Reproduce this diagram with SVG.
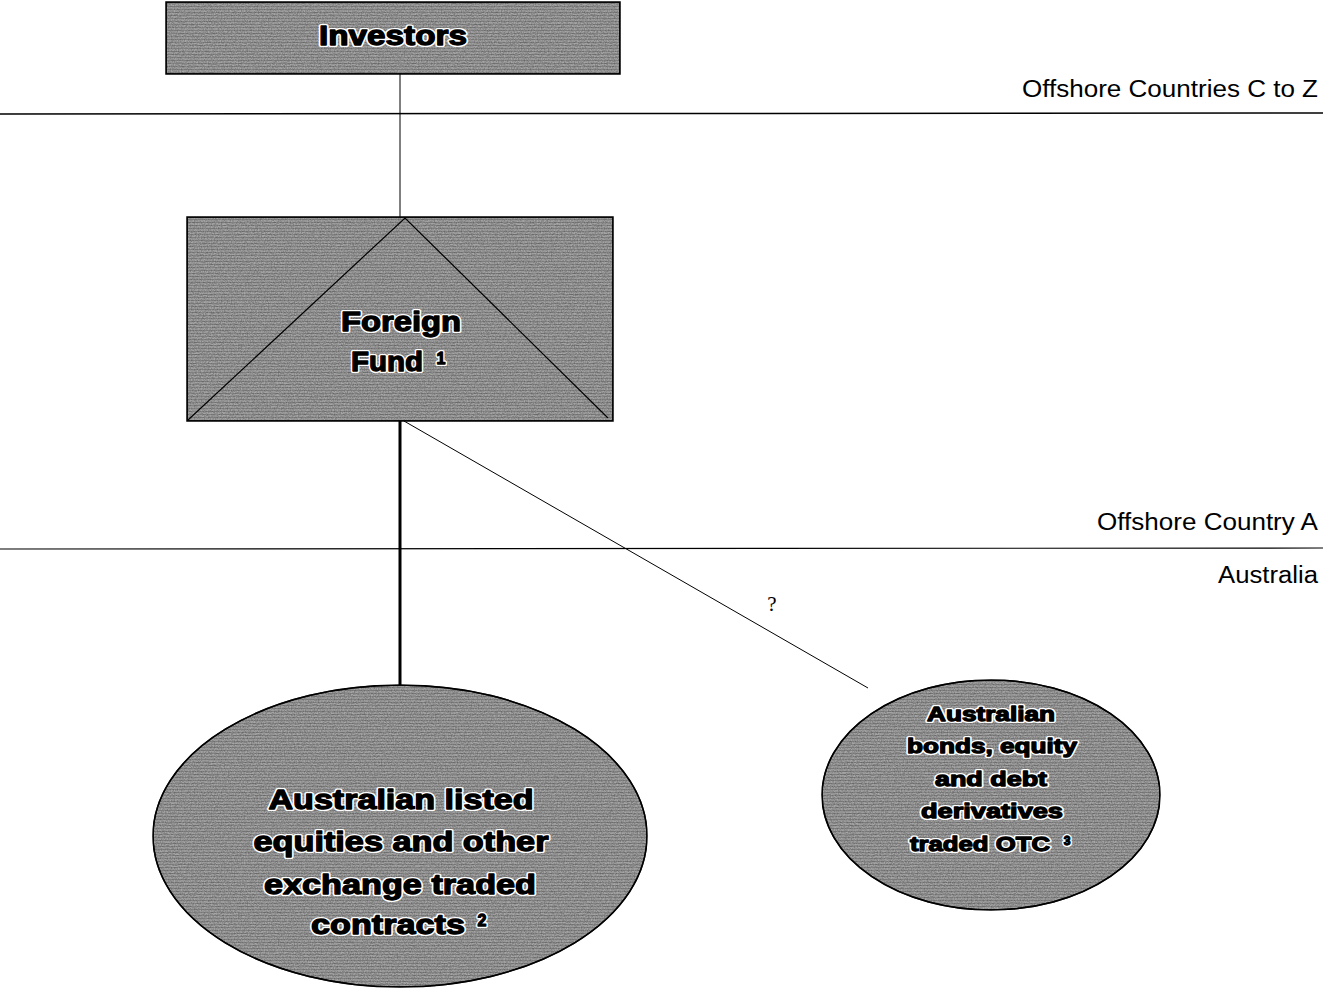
<svg xmlns="http://www.w3.org/2000/svg" width="1323" height="988" viewBox="0 0 1323 988">
<defs>
<filter id="tex" x="0" y="0" width="100%" height="100%">
<feTurbulence type="fractalNoise" baseFrequency="0.7 0.9" numOctaves="3" seed="3" result="n"/>
<feColorMatrix in="n" type="matrix" values="0 0 0 0 0.55  0 0 0 0 0.55  0 0 0 0 0.55  2.2 0 0 0 -0.6" result="g"/>
<feComposite in="g" in2="SourceGraphic" operator="in" result="gi"/>
<feBlend in="gi" in2="SourceGraphic" mode="multiply"/>
</filter>
<pattern id="stripes" width="4" height="3" patternUnits="userSpaceOnUse">
<rect width="4" height="3" fill="#a6a6a6"/>
<rect width="4" height="1" fill="#8a8a8a"/>
</pattern>
<style>
.shape{fill:url(#stripes);stroke:#000;stroke-width:1.5}
.halo{font-family:"Liberation Sans",Arial,sans-serif;font-weight:bold;fill:#fff;stroke:#fff;stroke-width:4;stroke-linejoin:round;text-anchor:middle}
.ink{font-family:"Liberation Sans",Arial,sans-serif;font-weight:bold;fill:#000;stroke:#000;stroke-width:1.3;stroke-linejoin:round;text-anchor:middle}
.region{font-family:"Liberation Sans",Arial,sans-serif;font-size:23px;fill:#000;text-anchor:end}
.line{stroke:#000;fill:none}
</style>
</defs>
<rect width="1323" height="988" fill="#fff"/>
<g id="region-lines">
<line class="line" x1="0" y1="114" x2="1323" y2="113" stroke-width="1.5"/>
<line class="line" x1="0" y1="549" x2="1323" y2="548" stroke-width="1.2"/>
<text class="region" x="1318" y="97" textLength="296" lengthAdjust="spacingAndGlyphs">Offshore Countries C to Z</text>
<text class="region" x="1318" y="530" textLength="221" lengthAdjust="spacingAndGlyphs">Offshore Country A</text>
<text class="region" x="1318" y="583" textLength="100" lengthAdjust="spacingAndGlyphs">Australia</text>
</g>
<g id="connectors">
<line class="line" x1="400" y1="74" x2="400" y2="217" stroke-width="1"/>
<line class="line" x1="400" y1="421" x2="400" y2="686" stroke-width="3"/>
<line class="line" x1="404" y1="421" x2="868" y2="688" stroke-width="1"/>
<text x="772" y="611" font-family="Liberation Serif,serif" font-size="21" text-anchor="middle">?</text>
</g>
<g id="investors">
<rect class="shape" x="166" y="2" width="454" height="72" filter="url(#tex)"/>
<rect x="166" y="2" width="454" height="72" fill="none" stroke="#000" stroke-width="1.5"/>
<g font-size="27">
<text class="halo" x="393" y="45" textLength="148" lengthAdjust="spacingAndGlyphs">Investors</text>
<text class="ink" x="393" y="45" textLength="148" lengthAdjust="spacingAndGlyphs">Investors</text>
</g>
</g>
<g id="foreign-fund">
<rect class="shape" x="187" y="217" width="426" height="204" filter="url(#tex)"/>
<rect x="187" y="217" width="426" height="204" fill="none" stroke="#000" stroke-width="1.5"/>
<polyline class="line" points="188,420 405,218 608,418" stroke-width="1.2"/>
<g font-size="28">
<text class="halo" x="401" y="331" textLength="120" lengthAdjust="spacingAndGlyphs">Foreign</text>
<text class="ink" x="401" y="331" textLength="120" lengthAdjust="spacingAndGlyphs">Foreign</text>
<text class="halo" x="387" y="371" textLength="72" lengthAdjust="spacingAndGlyphs">Fund</text>
<text class="ink" x="387" y="371" textLength="72" lengthAdjust="spacingAndGlyphs">Fund</text>
<text class="halo" x="441" y="364" font-size="16">1</text>
<text class="ink" x="441" y="364" font-size="16" stroke-width="0.6">1</text>
</g>
</g>
<g id="listed">
<ellipse class="shape" cx="400" cy="836" rx="247" ry="151" filter="url(#tex)"/>
<ellipse cx="400" cy="836" rx="247" ry="151" fill="none" stroke="#000" stroke-width="1.5"/>
<g font-size="28">
<text class="halo" x="401" y="809" textLength="265" lengthAdjust="spacingAndGlyphs">Australian listed</text>
<text class="ink" x="401" y="809" textLength="265" lengthAdjust="spacingAndGlyphs">Australian listed</text>
<text class="halo" x="401" y="851" textLength="295" lengthAdjust="spacingAndGlyphs">equities and other</text>
<text class="ink" x="401" y="851" textLength="295" lengthAdjust="spacingAndGlyphs">equities and other</text>
<text class="halo" x="400" y="894" textLength="272" lengthAdjust="spacingAndGlyphs">exchange traded</text>
<text class="ink" x="400" y="894" textLength="272" lengthAdjust="spacingAndGlyphs">exchange traded</text>
<text class="halo" x="388" y="934" textLength="154" lengthAdjust="spacingAndGlyphs">contracts</text>
<text class="ink" x="388" y="934" textLength="154" lengthAdjust="spacingAndGlyphs">contracts</text>
<text class="halo" x="482" y="926" font-size="16">2</text>
<text class="ink" x="482" y="926" font-size="16" stroke-width="0.6">2</text>
</g>
</g>
<g id="otc">
<ellipse class="shape" cx="991" cy="795" rx="169" ry="115" filter="url(#tex)"/>
<ellipse cx="991" cy="795" rx="169" ry="115" fill="none" stroke="#000" stroke-width="1.5"/>
<g font-size="21">
<text class="halo" x="991" y="721" textLength="128" lengthAdjust="spacingAndGlyphs">Australian</text>
<text class="ink" x="991" y="721" textLength="128" lengthAdjust="spacingAndGlyphs" stroke-width="1">Australian</text>
<text class="halo" x="992" y="753" textLength="170" lengthAdjust="spacingAndGlyphs">bonds, equity</text>
<text class="ink" x="992" y="753" textLength="170" lengthAdjust="spacingAndGlyphs" stroke-width="1">bonds, equity</text>
<text class="halo" x="991" y="786" textLength="112" lengthAdjust="spacingAndGlyphs">and debt</text>
<text class="ink" x="991" y="786" textLength="112" lengthAdjust="spacingAndGlyphs" stroke-width="1">and debt</text>
<text class="halo" x="992" y="818" textLength="142" lengthAdjust="spacingAndGlyphs">derivatives</text>
<text class="ink" x="992" y="818" textLength="142" lengthAdjust="spacingAndGlyphs" stroke-width="1">derivatives</text>
<text class="halo" x="980" y="851" textLength="140" lengthAdjust="spacingAndGlyphs">traded OTC</text>
<text class="ink" x="980" y="851" textLength="140" lengthAdjust="spacingAndGlyphs" stroke-width="1">traded OTC</text>
<text class="halo" x="1067" y="845" font-size="12">3</text>
<text class="ink" x="1067" y="845" font-size="12" stroke-width="0.5">3</text>
</g>
</g>
</svg>
